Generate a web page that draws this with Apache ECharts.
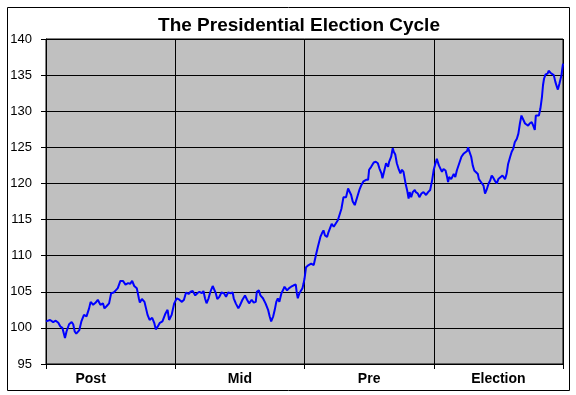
<!DOCTYPE html>
<html>
<head>
<meta charset="utf-8">
<script src="https://cdn.jsdelivr.net/npm/echarts@6/dist/echarts.min.js"></script>
<style>html,body{margin:0;padding:0;background:#fff;}#c{width:576px;height:395px;}</style>
</head>
<body>
<div id="c"></div>
<script>
var categories = ['Post', 'Mid', 'Pre', 'Election'];
var yTicks = [95, 100, 105, 110, 115, 120, 125, 130, 135, 140];

var postDays = [0,8,14,19,24,28,32,37,40,45,50,53,56,59,65,69,74,79,84,87,92,97,101,106,111,114,118,123,127,132,136,140,145,150,155,160,164,168,172,177,181,183,187,192,195,198,202,207,211,214,218,222,227,233,237,240,245,250];
var postValues = [100.9,101.1,100.8,101.0,100.7,100.2,100.0,98.6,99.5,100.5,100.8,100.5,99.5,99.2,99.7,100.9,101.8,101.6,102.7,103.6,103.2,103.5,103.9,103.2,103.4,102.7,103.0,103.4,104.8,104.9,105.2,105.5,106.5,106.5,106.0,106.2,106.1,106.5,105.8,105.5,104.1,103.5,104.0,103.6,102.7,101.8,101.1,101.4,100.7,99.8,100.2,100.7,100.9,102.0,102.5,101.1,101.8,103.4];

var midDays = [252,255,260,265,269,273,278,282,286,291,295,299,304,307,310,313,317,320,325,328,331,334,338,342,347,351,355,360,364,366,370,375,378,383,388,392,396,401,405,409,411,415,418,423,428,433,436,439,443,446,449,452,455,459,462,465,470,474,478,483,487,489,491,494,500,502];
var midValues = [103.6,104.1,103.9,103.6,103.9,104.9,104.7,105.0,105.1,104.5,104.8,105.0,104.8,105.1,104.1,103.4,104.1,104.9,105.8,105.9,104.8,104.0,104.3,104.9,104.8,104.3,104.9,104.8,104.9,104.1,103.4,102.7,103.1,103.9,104.5,103.9,103.4,103.9,103.5,103.6,105.0,105.2,104.5,104.1,103.4,102.5,101.6,100.9,101.6,102.5,103.6,104.1,103.6,104.8,105.2,105.7,105.2,105.5,105.7,105.9,106.0,104.8,104.1,104.8,105.5,106.1];

var preDays = [504,507,512,517,522,526,530,535,538,541,544,548,551,554,557,561,564,569,572,576,580,585,589,591,595,598,602,605,608,611,615,619,624,628,630,634,639,643,647,650,654,656,660,663,667,669,673,676,678,681,684,688,691,694,697,701,704,707,709,712,715,719,721,725,728,732,736,741,745,749,753,756];
var preValues = [106.8,108.4,108.7,108.9,108.7,110.0,111.2,112.6,113.1,113.5,112.8,112.6,113.3,113.5,114.4,114.0,114.2,114.9,115.1,116.5,118.1,118.1,119.3,119.1,118.4,117.5,117.0,117.2,118.4,119.1,119.8,120.3,120.5,120.5,121.9,122.3,122.9,123.0,122.8,122.1,121.4,120.7,121.9,122.8,122.3,123.0,123.7,124.9,124.4,124.0,122.8,121.9,121.4,121.9,121.6,120.0,119.1,117.9,118.8,118.1,118.8,119.1,118.8,118.6,118.1,118.6,118.8,118.4,118.8,119.1,120.5,121.9];

var electionDays = [759,762,766,769,772,775,779,782,784,786,790,795,798,801,804,810,814,817,821,823,825,829,832,835,838,842,844,848,853,856,859,863,866,869,872,875,879,882,885,890,895,898,901,905,908,911,914,918,921,924,927,930,934,937,940,943,947,950,953,955,958,961,964,967,969,971,974,978,980,984,987,990,993,996,998,1001,1005,1008];
var electionValues = [122.7,123.4,122.5,122.3,121.6,122.0,121.8,120.9,120.2,120.9,120.6,121.3,120.9,121.8,122.0,123.7,124.1,124.3,124.5,125.0,124.5,123.7,122.5,121.8,122.0,121.3,120.6,120.2,119.7,118.6,119.1,120.0,120.4,121.1,120.8,120.4,120.0,120.6,120.8,121.1,120.6,121.3,122.7,123.7,124.4,124.8,125.7,126.2,126.9,128.3,129.4,129.2,128.3,128.5,128.0,128.3,128.5,128.0,127.4,129.4,129.6,129.4,130.4,132.0,133.6,134.5,135.1,135.2,135.6,135.3,135.1,135.0,134.1,133.4,133.0,133.8,135.0,136.6];

var allDays = postDays.concat(midDays, preDays, electionDays);
var allValues = postValues.concat(midValues, preValues, electionValues);
var seriesData = allDays.map(function (d, i) { return [d, allValues[i]]; });

var chart = echarts.init(document.getElementById('c'), null, {renderer: 'canvas'});
var FONT = 'Liberation Sans, Arial, sans-serif';
chart.setOption({
  animation: false,
  backgroundColor: '#ffffff',
  title: {
    text: 'The Presidential Election Cycle',
    left: 294, top: 11, textAlign: 'center',
    textStyle: {fontFamily: FONT, fontWeight: 'bold', fontSize: 19, color: '#000'}
  },
  graphic: [{
    type: 'rect', left: 5, top: 5, silent: true,
    shape: {width: 562, height: 383},
    style: {fill: 'none', stroke: '#000', lineWidth: 1}
  }],
  grid: {left: 46, right: 13, top: 39, bottom: 31, show: true, backgroundColor: '#C0C0C0', borderWidth: 1, borderColor: '#000'},
  xAxis: [{
    type: 'value', min: 0, max: 1008, show: false
  }, {
    type: 'category', data: categories, boundaryGap: true, position: 'bottom',
    axisLine: {show: true, lineStyle: {color: '#000', width: 1}},
    axisTick: {show: true, alignWithLabel: false, length: 5, lineStyle: {color: '#000'}},
    splitLine: {show: true, lineStyle: {color: '#000', width: 1}},
    axisLabel: {
      margin: 8, color: '#000', fontFamily: FONT, fontWeight: 'bold', fontSize: 14,
      formatter: function (v) { return v === 'Post' ? '{p|' + v + '}' : v; },
      rich: {p: {padding: [0, 40, 0, 0], fontFamily: FONT, fontWeight: 'bold', fontSize: 14, color: '#000'}}
    }
  }],
  yAxis: {
    type: 'value', min: yTicks[0], max: yTicks[yTicks.length - 1], interval: 5,
    axisLine: {show: true, lineStyle: {color: '#000', width: 1}},
    axisTick: {show: true, length: 5, lineStyle: {color: '#000'}},
    splitLine: {show: true, lineStyle: {color: '#000', width: 1}},
    axisLabel: {margin: 14, color: '#000', fontFamily: FONT, fontSize: 13}
  },
  series: [{
    type: 'line', xAxisIndex: 0, data: seriesData, showSymbol: false, symbol: 'none',
    lineStyle: {color: '#0000FF', width: 2}, itemStyle: {color: '#0000FF'}
  }]
});
</script>
</body>
</html>
